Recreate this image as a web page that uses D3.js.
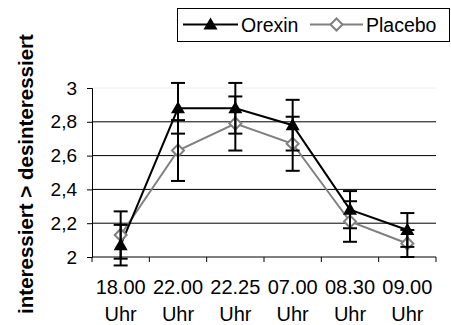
<!DOCTYPE html>
<html>
<head>
<meta charset="utf-8">
<script src="https://cdn.jsdelivr.net/npm/d3@7"></script>
<style>
  body { margin: 0; background: #fff; }
  text { font-family: "Liberation Sans", Arial, sans-serif; }
</style>
</head>
<body>
<div id="chart"></div>
<script>
// data
const times = ["18.00", "22.00", "22.25", "07.00", "08.30", "09.00"];
const orexin = [2.07, 2.88, 2.88, 2.78, 2.28, 2.16];
const orexinErr = [0.12, 0.15, 0.15, 0.15, 0.11, 0.10];
const placebo = [2.13, 2.63, 2.79, 2.67, 2.21, 2.08];
const placeboErr = [0.14, 0.18, 0.16, 0.16, 0.12, 0.08];
const yTicks = [2, 2.2, 2.4, 2.6, 2.8, 3];

const width = 451, height = 325;
const margin = {left: 92, right: 15, top: 88, bottom: 68};

const svg = d3.select("#chart").append("svg")
    .attr("width", width)
    .attr("height", height);

const x = d3.scaleBand()
    .domain(times)
    .range([margin.left, width - margin.right]);

const y = d3.scaleLinear()
    .domain([2, 3])
    .range([height - margin.bottom, margin.top]);

const fmt = d => d3.format(".1f")(d).replace(".", ",").replace(",0", "");

// gridlines
svg.append("g").selectAll("line")
    .data(yTicks.filter(d => d > 2 && d < 3))
    .join("line")
    .attr("x1", margin.left).attr("x2", width - margin.right)
    .attr("y1", d => y(d)).attr("y2", d => y(d))
    .attr("stroke", "#000").attr("stroke-width", 1);

svg.append("line")
    .attr("x1", margin.left).attr("x2", width - margin.right)
    .attr("y1", y(3)).attr("y2", y(3))
    .attr("stroke", "#eee");

// y axis
const yAxis = svg.append("g")
    .attr("transform", `translate(${margin.left},0)`)
    .call(d3.axisLeft(y).tickValues(yTicks).tickFormat(fmt).tickSize(5).tickPadding(10));
yAxis.select(".domain").attr("stroke", "#000").attr("stroke-width", 1);
yAxis.selectAll("text").attr("font-size", 19).attr("fill", "#000")
    .attr("font-family", "Liberation Sans, Arial, sans-serif");

// x axis with boundary ticks
const xAxisG = svg.append("g")
    .attr("transform", `translate(0,${y(2)})`);
xAxisG.append("line")
    .attr("x1", margin.left).attr("x2", width - margin.right)
    .attr("stroke", "#000");
const bounds = times.map(t => x(t)).concat([x(times[times.length - 1]) + x.bandwidth()]);
xAxisG.selectAll(".tk")
    .data(bounds)
    .join("line")
    .attr("x1", d => d).attr("x2", d => d)
    .attr("y1", 0).attr("y2", 5)
    .attr("stroke", "#000");
const lbl = xAxisG.selectAll(".lbl")
    .data(times)
    .join("text")
    .attr("text-anchor", "middle")
    .attr("font-size", 20)
    .attr("fill", "#000");
lbl.append("tspan")
    .attr("x", d => x(d) + x.bandwidth() / 2)
    .attr("y", 37)
    .text(d => d);
lbl.append("tspan")
    .attr("x", d => x(d) + x.bandwidth() / 2)
    .attr("y", 64)
    .text("Uhr");

// y title
svg.append("text")
    .attr("transform", `translate(33,174) rotate(-90)`)
    .attr("text-anchor", "middle")
    .attr("font-size", 20.5)
    .attr("font-weight", "bold")
    .text("interessiert > desinteressiert");

const cx = d => x(d) + x.bandwidth() / 2;

const series = [
    {name: "Orexin", values: orexin, err: orexinErr, color: "#000", marker: "triangle"},
    {name: "Placebo", values: placebo, err: placeboErr, color: "#808080", marker: "diamond"}
];

const line = d3.line().x(d => cx(d.t)).y(d => y(d.v));

// lines (placebo drawn first, orexin on top)
[series[1], series[0]].forEach(s => {
    const pts = times.map((t, i) => ({t: t, v: s.values[i]}));
    svg.append("path")
        .datum(pts)
        .attr("d", line)
        .attr("fill", "none")
        .attr("stroke", s.color)
        .attr("stroke-width", 2);
});

// markers
function drawMarker(g, s, px, py) {
    if (s.marker === "triangle") {
        g.append("path")
            .attr("d", d3.symbol().type(d3.symbolTriangle).size(85)())
            .attr("transform", `translate(${px},${py + 1})`)
            .attr("fill", "#000");
    } else {
        g.append("path")
            .attr("d", `M0,-6L6,0L0,6L-6,0Z`)
            .attr("transform", `translate(${px},${py})`)
            .attr("fill", "#fff")
            .attr("stroke", s.color)
            .attr("stroke-width", 2);
    }
}

const markG = svg.append("g");
[series[1], series[0]].forEach(s => {
    times.forEach((t, i) => drawMarker(markG, s, cx(t), y(s.values[i])));
});

// error bars on top
const errG = svg.append("g").attr("stroke", "#000").attr("stroke-width", 2);
series.forEach(s => {
    times.forEach((t, i) => {
        const px = cx(t), hi = y(s.values[i] + s.err[i]), lo = y(s.values[i] - s.err[i]);
        errG.append("line").attr("x1", px).attr("x2", px).attr("y1", hi).attr("y2", lo);
        errG.append("line").attr("x1", px - 7).attr("x2", px + 7).attr("y1", hi).attr("y2", hi);
        errG.append("line").attr("x1", px - 7).attr("x2", px + 7).attr("y1", lo).attr("y2", lo);
    });
});

// legend
const leg = svg.append("g").attr("transform", "translate(177,8)");
leg.append("rect")
    .attr("x", 0.5).attr("y", 0.5)
    .attr("width", 272).attr("height", 33)
    .attr("fill", "#fff").attr("stroke", "#000");
const legPos = [[6, 61], [133, 186]];
series.forEach((s, k) => {
    const [lx1, lx2] = legPos[k];
    leg.append("line")
        .attr("x1", lx1).attr("x2", lx2).attr("y1", 16.5).attr("y2", 16.5)
        .attr("stroke", s.color).attr("stroke-width", 2);
    drawMarker(leg, s, (lx1 + lx2) / 2, 16.5);
    leg.append("text")
        .attr("x", lx2 + 3).attr("y", 23.5)
        .attr("font-size", 19.5)
        .text(s.name);
});
</script>
</body>
</html>
